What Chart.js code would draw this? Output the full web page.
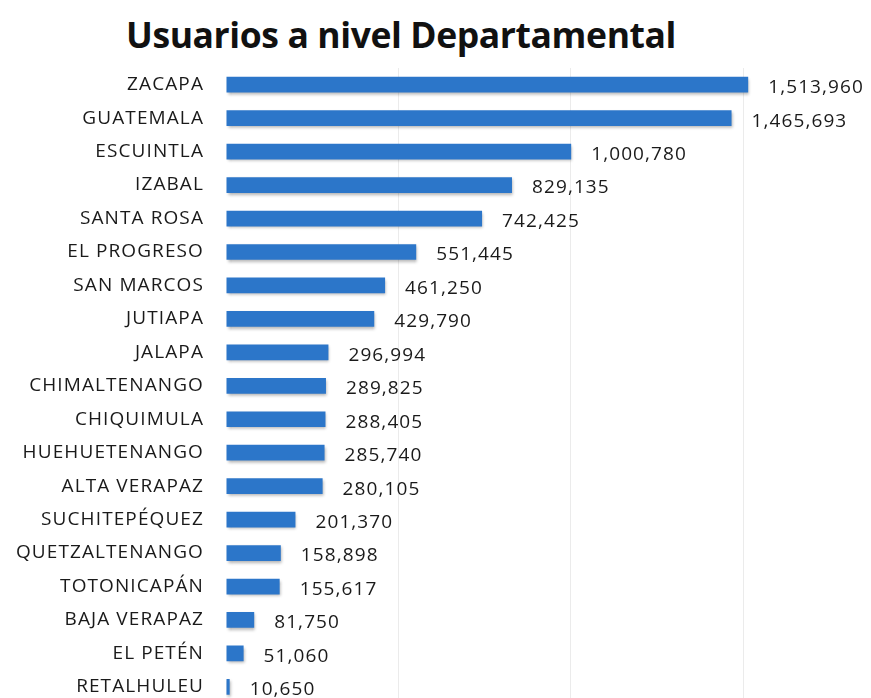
<!DOCTYPE html>
<html>
<head>
<meta charset="utf-8">
<script src="https://cdn.jsdelivr.net/npm/chart.js@4.4.1/dist/chart.umd.min.js"></script>
<style>
    html, body { margin: 0; padding: 0; background: #fff; overflow: hidden; }
    #wrap { position: relative; width: 871px; height: 698px; overflow: hidden; }
    #title {
        position: absolute; left: 0; top: 10px; width: 802px; text-align: center;
        font-family: "Open Sans", sans-serif; font-weight: 700; font-size: 35.5px; color: #111;
        letter-spacing: -0.4px; line-height: 48px;
    }
    #chart-box { position: absolute; left: 0; top: 0; width: 871px; height: 729px; }
</style>
</head>
<body>
<div id="wrap">
    <div id="title">Usuarios a nivel Departamental</div>
    <div id="chart-box"><canvas id="users-chart"></canvas></div>
</div>
<script>
// data
const departamentos = ["ZACAPA", "GUATEMALA", "ESCUINTLA", "IZABAL", "SANTA ROSA", "EL PROGRESO", "SAN MARCOS", "JUTIAPA", "JALAPA", "CHIMALTENANGO", "CHIQUIMULA", "HUEHUETENANGO", "ALTA VERAPAZ", "SUCHITEPÉQUEZ", "QUETZALTENANGO", "TOTONICAPÁN", "BAJA VERAPAZ", "EL PETÉN", "RETALHULEU"];
const usuarios = [1513960, 1465693, 1000780, 829135, 742425, 551445, 461250, 429790, 296994, 289825, 288405, 285740, 280105, 201370, 158898, 155617, 81750, 51060, 10650];
const gridValues = [0, 500000, 1000000, 1500000];

const users_chart = document.getElementById("users-chart");

// wider letters, the scanned text is a bit stretched
const textSpacing = {
    id: "textSpacing",
    beforeDraw(chart) {
        chart.ctx.letterSpacing = "1.1px";
    }
};

// soft shadow under the bars, like the excel look
const barShadow = {
    id: "barShadow",
    beforeDatasetsDraw(chart) {
        const ctx = chart.ctx;
        ctx.save();
        ctx.shadowColor = "rgba(0, 0, 0, 0.3)";
        ctx.shadowBlur = 3;
        ctx.shadowOffsetX = 1;
        ctx.shadowOffsetY = 2;
    },
    afterDatasetsDraw(chart) {
        chart.ctx.restore();
    }
};

// value labels next to every bar
const valueLabels = {
    id: "valueLabels",
    afterDatasetsDraw(chart) {
        const ctx = chart.ctx;
        const meta = chart.getDatasetMeta(0);
        ctx.save();
        ctx.font = "19px 'Open Sans', sans-serif";
        ctx.fillStyle = "#1a1a1a";
        ctx.textBaseline = "middle";
        ctx.textAlign = "left";
        meta.data.forEach((bar, i) => {
            ctx.fillText(usuarios[i].toLocaleString("en-US"), bar.x + 20, bar.y + 3);
        });
        ctx.restore();
    }
};

new Chart(users_chart, {
    type: "bar",
    data: {
        labels: departamentos,
        datasets: [{
            data: usuarios,
            backgroundColor: "#2c76c9",
            borderWidth: 0,
            categoryPercentage: 0.47,
            barPercentage: 1
        }]
    },
    options: {
        indexAxis: "y",
        responsive: true,
        maintainAspectRatio: false,
        animation: false,
        layout: { padding: { top: 68, bottom: 1, right: 0, left: 0 } },
        plugins: {
            legend: { display: false },
            tooltip: { enabled: false }
        },
        scales: {
            x: {
                min: 0,
                max: 1870000,
                afterBuildTicks: (scale) => { scale.ticks = gridValues.map(v => ({ value: v })); },
                afterFit: (scale) => { scale.height = 0; },
                ticks: { display: false },
                border: { display: false },
                grid: {
                    color: (c) => c.tick && c.tick.value === 0 ? "rgba(0,0,0,0)" : "#ebebeb",
                    drawTicks: false
                }
            },
            y: {
                afterFit: (scale) => { scale.width = 226; },
                border: { display: false },
                grid: { display: false },
                ticks: {
                    color: "#1a1a1a",
                    padding: 14,
                    font: { family: "'Open Sans', sans-serif", size: 19 }
                }
            }
        }
    },
    plugins: [textSpacing, barShadow, valueLabels]
});
</script>
</body>
</html>
